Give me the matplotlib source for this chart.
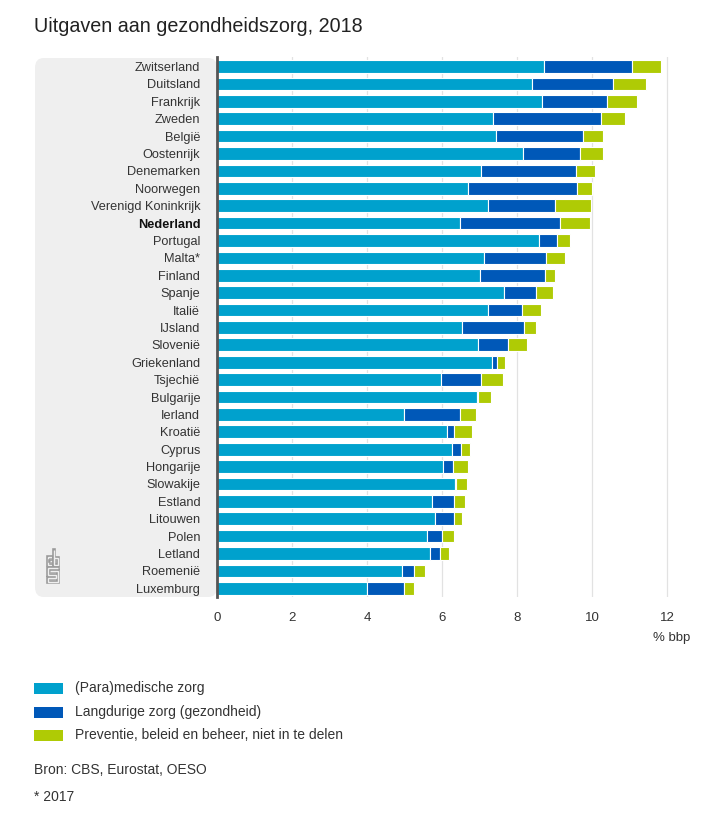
import matplotlib
matplotlib.use("Agg")
import matplotlib.pyplot as plt
from matplotlib.patches import FancyBboxPatch, Rectangle
from matplotlib.lines import Line2D
import numpy as np

plt.rcParams['font.family'] = ['Liberation Sans', 'DejaVu Sans']

countries = ["Zwitserland", "Duitsland", "Frankrijk", "Zweden", "België", "Oostenrijk",
             "Denemarken", "Noorwegen", "Verenigd Koninkrijk", "Nederland", "Portugal",
             "Malta*", "Finland", "Spanje", "Italië", "IJsland", "Slovenië", "Griekenland",
             "Tsjechië", "Bulgarije", "Ierland", "Kroatië", "Cyprus", "Hongarije",
             "Slowakije", "Estland", "Litouwen", "Polen", "Letland", "Roemenië", "Luxemburg"]

paramedisch = [8.72, 8.40, 8.66, 7.35, 7.45, 8.16, 7.03, 6.70, 7.22, 6.47, 8.58,
               7.11, 7.01, 7.66, 7.22, 6.54, 6.97, 7.33, 5.98, 6.94, 4.99, 6.12,
               6.26, 6.03, 6.34, 5.74, 5.80, 5.60, 5.67, 4.92, 3.99]
langdurig = [2.35, 2.15, 1.73, 2.88, 2.32, 1.52, 2.54, 2.91, 1.80, 2.68, 0.48,
             1.67, 1.73, 0.84, 0.90, 1.64, 0.78, 0.13, 1.05, 0.02, 1.48, 0.19,
             0.24, 0.26, 0.02, 0.57, 0.51, 0.40, 0.28, 0.32, 0.99]
preventie = [0.77, 0.89, 0.82, 0.65, 0.52, 0.61, 0.50, 0.40, 0.96, 0.80, 0.35,
             0.49, 0.28, 0.45, 0.52, 0.33, 0.52, 0.22, 0.59, 0.35, 0.43, 0.50,
             0.24, 0.40, 0.30, 0.31, 0.22, 0.31, 0.24, 0.30, 0.28]

series_names = ["(Para)medische zorg", "Langdurige zorg (gezondheid)",
                "Preventie, beleid en beheer, niet in te delen"]
xticks = [0, 2, 4, 6, 8, 10, 12]
title = "Uitgaven aan gezondheidszorg, 2018"
unit = "% bbp"
source = "Bron: CBS, Eurostat, OESO"
note = "* 2017"

colors = ["#00a1cd", "#0058b8", "#afcb05"]
W, H = 719, 821
fig = plt.figure(figsize=(W / 100, H / 100), dpi=100)

def fx(px):
    return px / W

def fy(py):
    return 1 - py / H

# gray label panel (behind everything)
panel = FancyBboxPatch((fx(35), fy(597)), fx(217) - fx(35), fy(58) - fy(597),
                       boxstyle="round,pad=0,rounding_size=0.012",
                       transform=fig.transFigure, facecolor="#efefef",
                       edgecolor="none", zorder=-5)
fig.patches.append(panel)

ax_left, ax_right = 217, 674.5
ax = fig.add_axes([fx(ax_left), fy(597), fx(ax_right) - fx(ax_left), fy(57) - fy(597)])
ax.set_zorder(1)
ax.patch.set_alpha(0.0)

y = np.arange(len(countries))
p = np.array(paramedisch)
l = np.array(langdurig)
v = np.array(preventie)
h = 0.73
ax.barh(y, p, height=h, color=colors[0], edgecolor="white", linewidth=0.8, zorder=3)
ax.barh(y, l, left=p, height=h, color=colors[1], edgecolor="white", linewidth=0.8, zorder=3)
ax.barh(y, v, left=p + l, height=h, color=colors[2], edgecolor="white", linewidth=0.8, zorder=3)

ax.set_xlim(0, 12.2)
ax.set_ylim(len(countries) - 0.5, -0.55)
ax.set_xticks(xticks)
ax.set_xticklabels([str(t) for t in xticks])
ax.xaxis.grid(True, color="#e2e2e2", linewidth=0.9, zorder=0)
ax.set_axisbelow(True)
for s in ["top", "right", "bottom"]:
    ax.spines[s].set_visible(False)
ax.spines["left"].set_color("#555555")
ax.spines["left"].set_linewidth(2.0)
ax.spines["left"].set_zorder(5)
ax.tick_params(axis="x", length=0, pad=11, labelsize=9.5, labelcolor="#333333")
ax.tick_params(axis="y", length=0, pad=12, labelsize=9.2, labelcolor="#333333")
ax.set_yticks(y)
ax.set_yticklabels(countries)
for lab in ax.get_yticklabels():
    if lab.get_text() == "Nederland":
        lab.set_fontweight("bold")
        lab.set_color("#111111")

fig.text(fx(690), fy(638), unit, ha="right", va="center", fontsize=9.5, color="#333333")
fig.text(fx(34), fy(31.5), title, ha="left", va="baseline", fontsize=14.2, color="#222222")

# legend
for i, (name, c) in enumerate(zip(series_names, colors)):
    cy = [688, 712, 735][i]
    fig.patches.append(Rectangle((fx(34), fy(cy + 5.5)), fx(63) - fx(34), fy(cy - 5.5) - fy(cy + 5.5),
                                 transform=fig.transFigure, facecolor=c, edgecolor="none"))
    fig.text(fx(75), fy(cy), name, ha="left", va="center", fontsize=10, color="#333333")

fig.text(fx(34), fy(770), source, ha="left", va="center", fontsize=10, color="#333333")
fig.text(fx(34), fy(797), note, ha="left", va="center", fontsize=10, color="#333333")

# CBS logo (outline strokes)
logo_paths = [
    [(52, 557), (47.5, 557), (47.5, 565), (52, 565)],
    [(52, 561), (50, 561)],
    [(53.5, 550), (53.5, 565), (58, 565), (58, 558), (53.5, 558)],
    [(58, 567.5), (47.5, 567.5), (47.5, 574.5), (56, 574.5), (56, 578), (47.5, 578), (47.5, 582), (58, 582), (58, 571), (50, 571)],
]
for path in logo_paths:
    xs = [fx(a) for a, b in path]
    ys = [fy(b) for a, b in path]
    fig.lines.append(Line2D(xs, ys, transform=fig.transFigure, color="#9a9a9a",
                            linewidth=2.6, solid_capstyle="projecting", solid_joinstyle="miter", zorder=2))
    fig.lines.append(Line2D(xs, ys, transform=fig.transFigure, color="#efefef",
                            linewidth=1.0, solid_capstyle="butt", solid_joinstyle="miter", zorder=2))

fig.savefig("out.png", dpi=100, facecolor="white")
